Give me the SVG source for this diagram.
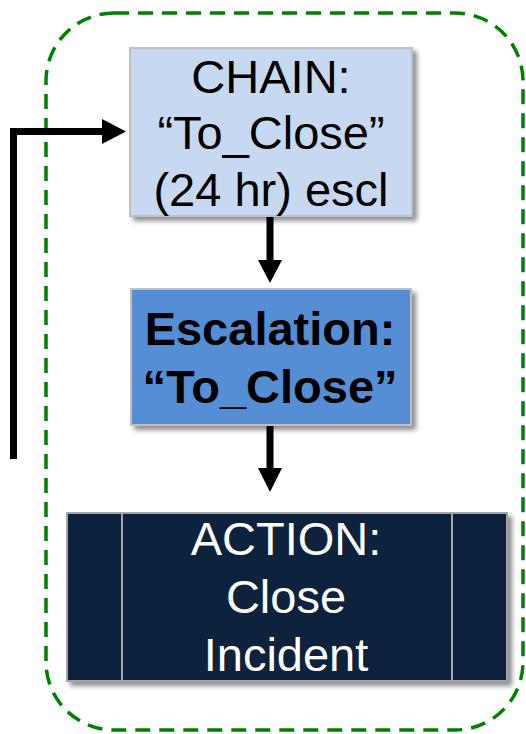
<svg xmlns="http://www.w3.org/2000/svg" width="526" height="734" viewBox="0 0 526 734">
<defs>
<filter id="sh" x="-10%" y="-10%" width="130%" height="130%">
<feGaussianBlur in="SourceAlpha" stdDeviation="2.5"/>
<feOffset dx="4" dy="4" result="b"/>
<feComponentTransfer><feFuncA type="linear" slope="0.45"/></feComponentTransfer>
<feMerge><feMergeNode/><feMergeNode in="SourceGraphic"/></feMerge>
</filter>
<style>
.t{font-family:"Liberation Sans",Arial,sans-serif;font-size:47px;text-anchor:middle}
.b{font-weight:bold}
.w{fill:#fff}
.con{stroke:#000;stroke-width:7;fill:none}
.hd{fill:#000}
</style>
</defs>
<rect x="46" y="13" width="477" height="717" rx="68" ry="68" fill="none" stroke="#008000" stroke-width="3.5" stroke-dasharray="15,9"/>
<g id="connectors">
<path class="con" d="M13.5,459 V131.5 H104"/>
<polygon class="hd" points="102,119 126,131.5 102,144"/>
<line class="con" x1="270" y1="216" x2="270" y2="262"/>
<polygon class="hd" points="258,260 282,260 270,283"/>
<line class="con" x1="270" y1="426" x2="270" y2="470"/>
<polygon class="hd" points="258,468 282,468 270,492"/>
</g>
<g id="chain">
<rect x="130" y="48" width="282" height="168" fill="#C6D9F1" stroke="#C0C0C0" stroke-width="2" filter="url(#sh)"/>
<text class="t" x="271" y="93">CHAIN:</text>
<text class="t" x="271" y="149">“To_Close”</text>
<text class="t" x="271" y="206">(24 hr) escl</text>
</g>
<g id="escalation">
<rect x="131" y="289" width="280" height="136" fill="#558ED5" stroke="#C0C0C0" stroke-width="2" filter="url(#sh)"/>
<text class="t b" x="270" y="345">Escalation:</text>
<text class="t b" x="270" y="403">“To_Close”</text>
</g>
<g id="action">
<rect x="67" y="513" width="440" height="168" fill="#10243E" stroke="#A6A6A6" stroke-width="2" filter="url(#sh)"/>
<line x1="122" y1="513" x2="122" y2="681" stroke="#A6A6A6" stroke-width="2"/>
<line x1="452" y1="513" x2="452" y2="681" stroke="#A6A6A6" stroke-width="2"/>
<text class="t w" x="286" y="555">ACTION:</text>
<text class="t w" x="286" y="613">Close</text>
<text class="t w" x="286" y="671">Incident</text>
</g>
</svg>
